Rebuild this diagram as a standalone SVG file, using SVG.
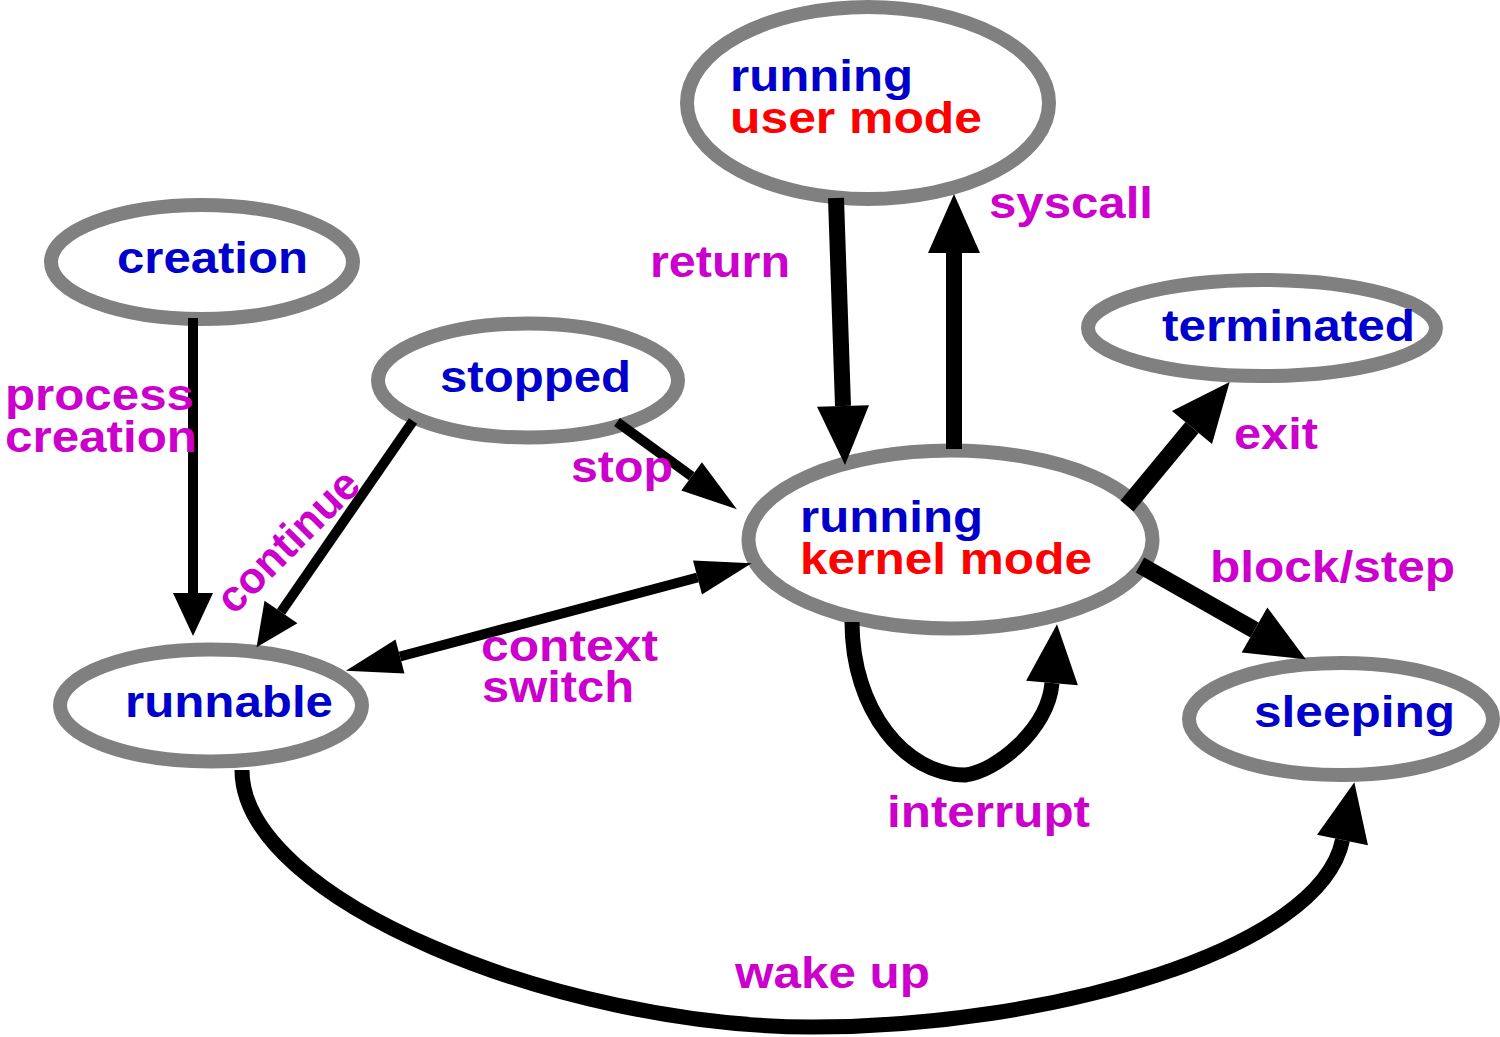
<svg xmlns="http://www.w3.org/2000/svg" width="1500" height="1037" viewBox="0 0 1500 1037">
  <style>
    .node ellipse { fill: #ffffff; stroke: #808080; stroke-width: 14; }
    text { font-family: "Liberation Sans", Arial, Helvetica, sans-serif; font-weight: bold; font-size: 44px; }
    .state { fill: #0000cc; }
    .mode { fill: #ff0000; }
    .label { fill: #cc00cc; }
    .edge { fill: none; stroke: #000000; stroke-linecap: butt; stroke-linejoin: miter; }
    .thin { stroke-width: 10; }
    .mid { stroke-width: 15; }
    .thick { stroke-width: 16; }
    .heavy { stroke-width: 17; }
  </style>
  <defs>
    <!-- arrowheads: drawn from the line end (base) forward to the tip -->
    <marker id="head-s" markerUnits="userSpaceOnUse" viewBox="0 -30 60 60" markerWidth="60" markerHeight="60" refX="0" refY="0" orient="auto" overflow="visible">
      <path d="M0,-20 L43,0 L0,20 Z" fill="#000"/>
    </marker>
    <marker id="head-m" markerUnits="userSpaceOnUse" viewBox="0 -30 60 60" markerWidth="60" markerHeight="60" refX="0" refY="0" orient="auto-start-reverse" overflow="visible">
      <path d="M0,-17.5 L56,0 L0,17.5 Z" fill="#000"/>
    </marker>
    <marker id="head-l" markerUnits="userSpaceOnUse" viewBox="0 -30 60 60" markerWidth="60" markerHeight="60" refX="0" refY="0" orient="auto" overflow="visible">
      <path d="M0,-26 L59,0 L0,26 Z" fill="#000"/>
    </marker>
  </defs>

  <rect x="0" y="0" width="1500" height="1037" fill="#ffffff"/>

  <!-- states -->
  <g id="running-user" class="node">
    <ellipse cx="868" cy="103" rx="181" ry="96"/>
    <text class="state" x="730" y="91" textLength="183" lengthAdjust="spacingAndGlyphs">running</text>
    <text class="mode" x="730" y="133" textLength="252" lengthAdjust="spacingAndGlyphs">user mode</text>
  </g>
  <g id="creation" class="node">
    <ellipse cx="202" cy="262" rx="151" ry="57"/>
    <text class="state" x="117" y="273" textLength="191" lengthAdjust="spacingAndGlyphs">creation</text>
  </g>
  <g id="stopped" class="node">
    <ellipse cx="528" cy="380.5" rx="150" ry="57"/>
    <text class="state" x="440" y="392" textLength="191" lengthAdjust="spacingAndGlyphs">stopped</text>
  </g>
  <g id="terminated" class="node">
    <ellipse cx="1262" cy="328" rx="174" ry="48"/>
    <text class="state" x="1162" y="341" textLength="253" lengthAdjust="spacingAndGlyphs">terminated</text>
  </g>
  <g id="running-kernel" class="node">
    <ellipse cx="950.5" cy="539.5" rx="202" ry="89"/>
    <text class="state" x="800" y="532" textLength="183" lengthAdjust="spacingAndGlyphs">running</text>
    <text class="mode" x="800" y="574" textLength="292" lengthAdjust="spacingAndGlyphs">kernel mode</text>
  </g>
  <g id="runnable" class="node">
    <ellipse cx="211" cy="705.5" rx="151" ry="56"/>
    <text class="state" x="125" y="717" textLength="208" lengthAdjust="spacingAndGlyphs">runnable</text>
  </g>
  <g id="sleeping" class="node">
    <ellipse cx="1341" cy="719" rx="152" ry="56"/>
    <text class="state" x="1254" y="727" textLength="201" lengthAdjust="spacingAndGlyphs">sleeping</text>
  </g>

  <!-- transitions -->
  <g id="connectors">
    <path id="e-create" class="edge thin" d="M193,318 L193,593" marker-end="url(#head-s)"/>
    <path id="e-continue" class="edge thin" d="M413,421 L281,612" marker-end="url(#head-s)"/>
    <path id="e-stop" class="edge thin" d="M617,422 L691.6,476.3" marker-end="url(#head-m)"/>
    <path id="e-switch" class="edge thin" d="M400,656.5 L697.5,577.5" marker-start="url(#head-m)" marker-end="url(#head-m)"/>
    <path id="e-return" class="edge thick" d="M836,198 L843,406" marker-end="url(#head-l)"/>
    <path id="e-syscall" class="edge thick" d="M954,449 L954,253" marker-end="url(#head-l)"/>
    <path id="e-exit" class="edge heavy" d="M1127,506 L1192,427.5" marker-end="url(#head-l)"/>
    <path id="e-block" class="edge heavy" d="M1140,565 L1254.5,630" marker-end="url(#head-l)"/>
    <path id="e-interrupt" class="edge mid" d="M852,622 C852,710 905,775 965,775 C995,772 1048,730 1052,683" marker-end="url(#head-l)"/>
    <path id="e-wakeup" class="edge mid" d="M242,770 C242,900 560,1027 812,1027 C1050,1027 1320,950 1342.5,840" marker-end="url(#head-l)"/>
  </g>

  <!-- transition labels -->
  <g id="labels" class="label">
    <text class="label" x="989" y="218" textLength="164" lengthAdjust="spacingAndGlyphs">syscall</text>
    <text class="label" x="650" y="277" textLength="140" lengthAdjust="spacingAndGlyphs">return</text>
    <text class="label" x="5" y="410" textLength="189" lengthAdjust="spacingAndGlyphs">process</text>
    <text class="label" x="5" y="452" textLength="192" lengthAdjust="spacingAndGlyphs">creation</text>
    <text class="label" x="571" y="482" textLength="102" lengthAdjust="spacingAndGlyphs">stop</text>
    <text class="label" transform="translate(234,616) rotate(-45)" x="0" y="0" textLength="182" lengthAdjust="spacingAndGlyphs">continue</text>
    <text class="label" x="481" y="661" textLength="177" lengthAdjust="spacingAndGlyphs">context</text>
    <text class="label" x="482" y="702" textLength="152" lengthAdjust="spacingAndGlyphs">switch</text>
    <text class="label" x="1234" y="449" textLength="84" lengthAdjust="spacingAndGlyphs">exit</text>
    <text class="label" x="1210" y="582" textLength="245" lengthAdjust="spacingAndGlyphs">block/step</text>
    <text class="label" x="887" y="827" textLength="203" lengthAdjust="spacingAndGlyphs">interrupt</text>
    <text class="label" x="735" y="988" textLength="195" lengthAdjust="spacingAndGlyphs">wake up</text>
  </g>
</svg>
